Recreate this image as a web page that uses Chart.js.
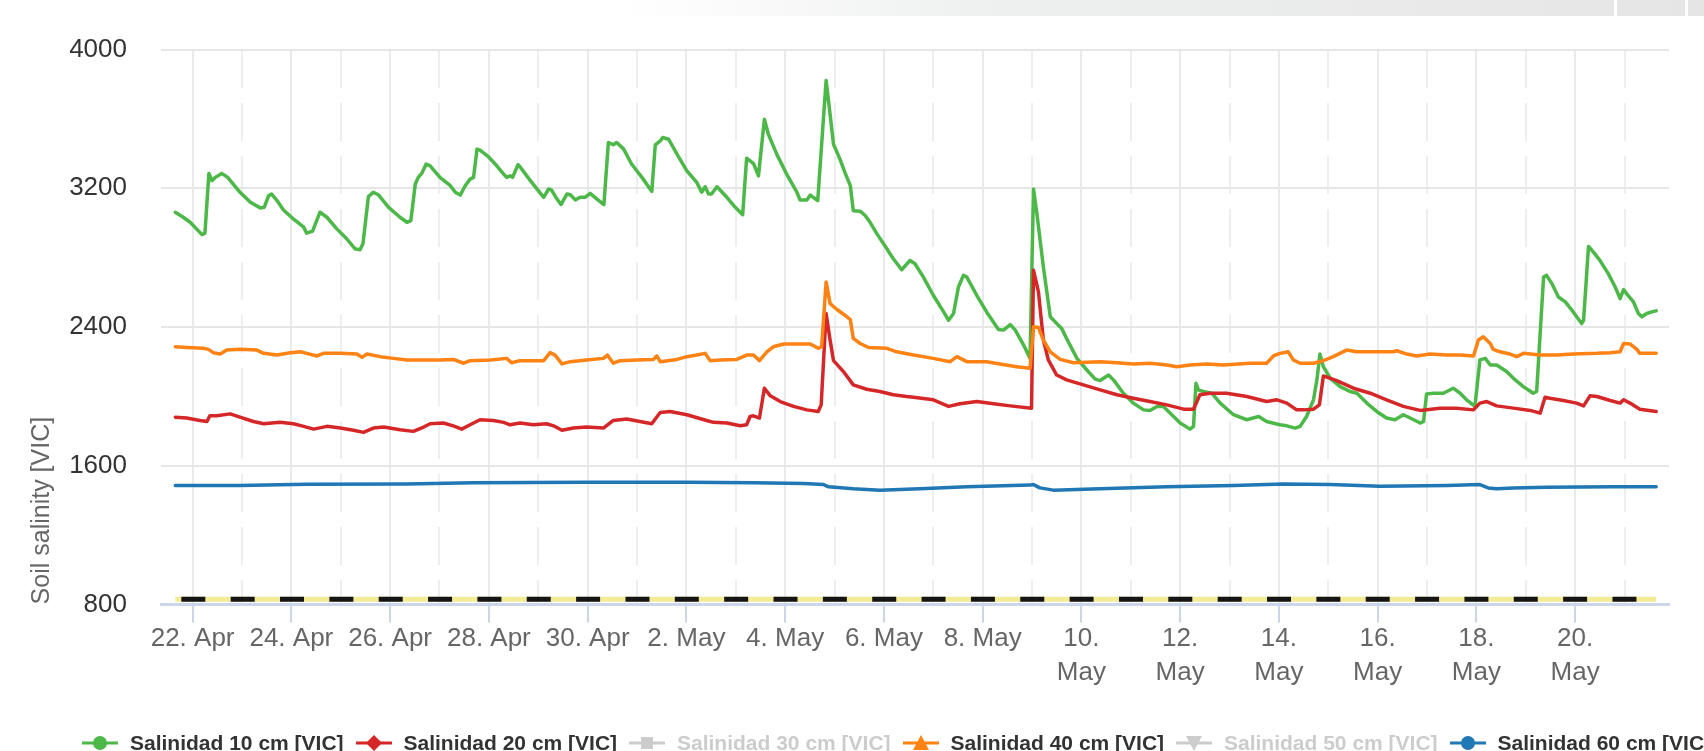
<!DOCTYPE html>
<html><head><meta charset="utf-8">
<script src="https://cdn.jsdelivr.net/npm/chart.js@4.4.1/dist/chart.umd.min.js"></script>
<style>
html,body{margin:0;padding:0;background:#fff;width:1704px;height:751px;overflow:hidden;}
#wrap{position:relative;width:1704px;height:751px;overflow:hidden;}
canvas{position:absolute;left:0;top:0;}
#topbar{position:absolute;left:620px;right:0;top:0;height:16px;background:linear-gradient(to right, rgba(236,238,237,0) 0%, #eef0ef 35%, #e5e5e5 100%);}
.sep{position:absolute;top:0;height:16px;width:3px;background:#fff;}
#legend{position:absolute;left:0;top:729px;height:30px;width:1704px;font:bold 21px 'Liberation Sans', Arial, sans-serif;white-space:nowrap;}
.item{position:absolute;top:0;height:28px;}
.item svg{position:absolute;left:0;top:4px;}
.item span{position:absolute;left:48px;top:0;line-height:28px;}
</style></head>
<body><div id="wrap"><canvas id="c" width="1704" height="751"></canvas><div id="topbar"><div class="sep" style="left:994px"></div><div class="sep" style="left:1065px"></div></div><div id="legend"></div></div>
<script>
// x values: days since 22 Apr 00:00
const xMin = -0.64, xMax = 29.9;
const majorDays = [0,2,4,6,8,10,12,14,16,18,20,22,24,26,28];
const minorDays = [1,3,5,7,9,11,13,15,17,19,21,23,25,27,29];
const tickLabels = ["22. Apr","24. Apr","26. Apr","28. Apr","30. Apr","2. May","4. May","6. May","8. May",
  ["10.","May"],["12.","May"],["14.","May"],["16.","May"],["18.","May"],["20.","May"]];
const yTicks = [800,1600,2400,3200,4000];

const s10T = [
 -0.35,-0.19,-0.05,0.19,0.25,0.33,0.39,0.46,0.59,0.71,
 0.96,1.17,1.37,1.45,1.54,1.60,1.71,1.84,2.04,2.25,
 2.31,2.43,2.58,2.72,2.92,3.12,3.29,3.39,3.45,3.56,
 3.66,3.76,3.97,4.20,4.34,4.42,4.51,4.57,4.64,4.73,
 4.81,5.01,5.22,5.32,5.42,5.52,5.62,5.69,5.76,5.82,
 5.99,6.16,6.30,6.36,6.43,6.48,6.59,6.63,6.84,7.11,
 7.21,7.27,7.38,7.46,7.58,7.65,7.75,7.85,7.95,8.05,
 8.19,8.33,8.42,8.52,8.59,8.73,8.89,9.10,9.30,9.37,
 9.47,9.52,9.64,9.81,10.01,10.21,10.31,10.38,10.45,10.51,
 10.62,10.82,10.99,11.14,11.22,11.36,11.46,11.58,11.66,11.83,
 12.03,12.24,12.30,12.44,12.51,12.57,12.66,12.83,12.91,12.98,
 13.11,13.21,13.32,13.38,13.52,13.62,13.72,13.86,14.06,14.19,
 14.36,14.53,14.63,14.80,15.00,15.21,15.31,15.41,15.51,15.61,
 15.68,15.88,16.08,16.32,16.42,16.56,16.66,16.83,16.96,17.03,
 17.10,17.23,17.37,17.50,17.60,17.70,17.91,18.11,18.28,18.38,
 18.55,18.65,18.85,19.05,19.26,19.39,19.53,19.66,19.80,20.00,
 20.20,20.27,20.32,20.37,20.47,20.64,20.81,21.08,21.35,21.59,
 21.75,22.02,22.16,22.33,22.43,22.56,22.70,22.77,22.83,22.90,
 23.04,23.24,23.44,23.58,23.78,23.98,24.18,24.35,24.52,24.66,
 24.86,24.93,24.99,25.13,25.33,25.53,25.67,25.80,25.97,26.07,
 26.18,26.28,26.41,26.61,26.75,26.95,27.15,27.22,27.36,27.42,
 27.53,27.66,27.80,27.96,28.13,28.17,28.27,28.37,28.50,28.67,
 28.81,28.91,28.98,29.04,29.18,29.28,29.35,29.45,29.55,29.64];
const s10V = [
 3062,3033,3004,2933,2941,3286,3244,3263,3286,3263,
 3177,3119,3087,3090,3158,3167,3129,3075,3023,2976,
 2941,2953,3062,3033,2966,2909,2851,2845,2880,3152,
 3177,3163,3090,3033,3004,3014,3225,3263,3286,3340,
 3330,3263,3215,3177,3161,3215,3253,3263,3426,3420,
 3382,3330,3282,3263,3272,3263,3336,3324,3244,3148,
 3196,3190,3138,3106,3167,3163,3133,3148,3148,3171,
 3138,3106,3464,3451,3464,3426,3340,3263,3182,3451,
 3473,3493,3483,3397,3301,3234,3177,3209,3167,3167,
 3209,3148,3090,3048,3374,3343,3272,3598,3512,3397,
 3282,3177,3133,3133,3161,3148,3129,3822,3627,3454,
 3368,3292,3215,3071,3068,3043,3004,2937,2851,2794,
 2730,2784,2765,2688,2583,2487,2439,2478,2631,2698,
 2688,2583,2487,2386,2382,2414,2382,2296,2219,3196,
 3052,2746,2459,2420,2392,2334,2219,2152,2099,2091,
 2123,2095,2018,1961,1922,1919,1942,1942,1903,1846,
 1811,1827,2075,2037,2028,2018,1961,1894,1865,1884,
 1855,1836,1830,1817,1827,1884,1980,2095,2244,2171,
 2104,2056,2028,2018,1961,1913,1875,1865,1894,1875,
 1846,1855,2014,2018,2018,2047,2018,1980,1942,2210,
 2219,2181,2181,2143,2104,2056,2018,2028,2688,2698,
 2650,2573,2545,2487,2420,2439,2865,2832,2784,2708,
 2631,2564,2616,2593,2545,2478,2459,2478,2487,2493];

const s20T = [
 -0.35,-0.12,0.15,0.29,0.35,0.49,0.76,0.96,1.23,1.44,
 1.77,2.04,2.25,2.45,2.72,2.99,3.26,3.46,3.66,3.87,
 4.20,4.47,4.68,4.81,5.08,5.28,5.45,5.62,5.82,6.09,
 6.30,6.43,6.63,6.90,7.17,7.31,7.48,7.71,7.98,8.32,
 8.52,8.79,9.06,9.30,9.37,9.47,9.67,10.01,10.41,10.55,
 10.82,11.09,11.22,11.29,11.36,11.48,11.58,11.70,11.90,12.17,
 12.44,12.67,12.73,12.83,12.91,12.98,13.18,13.38,13.65,13.92,
 14.19,14.46,14.60,15.00,15.31,15.54,15.88,16.22,16.56,16.99,
 17.03,17.13,17.23,17.33,17.50,17.70,18.04,18.38,18.72,19.05,
 19.39,19.73,20.07,20.27,20.40,20.61,20.94,21.35,21.75,21.96,
 22.16,22.36,22.50,22.70,22.82,22.90,23.17,23.51,23.85,24.18,
 24.52,24.86,25.26,25.60,25.94,26.07,26.21,26.41,26.75,27.09,
 27.29,27.39,27.49,27.76,28.03,28.17,28.30,28.44,28.71,28.91,
 28.98,29.11,29.31,29.64];
const s20V = [
 1880,1875,1861,1855,1888,1888,1899,1880,1855,1842,
 1850,1842,1827,1811,1827,1817,1804,1792,1817,1823,
 1807,1798,1823,1842,1846,1830,1811,1836,1865,1861,
 1850,1836,1846,1836,1842,1830,1804,1817,1823,1817,
 1861,1869,1855,1842,1869,1907,1913,1894,1861,1850,
 1846,1830,1836,1884,1888,1875,2047,2003,1970,1942,
 1922,1913,1951,2478,2325,2206,2143,2066,2041,2028,
 2009,1999,1995,1980,1942,1957,1970,1957,1945,1932,
 2727,2602,2325,2210,2123,2095,2066,2037,2009,1989,
 1970,1951,1926,1926,2009,2018,2018,1999,1970,1980,
 1961,1922,1922,1926,1951,2118,2091,2047,2018,1980,
 1942,1919,1932,1932,1922,1961,1970,1945,1932,1919,
 1903,1995,1989,1976,1961,1945,2003,1999,1976,1961,
 1980,1961,1926,1913];

const s40T = [
 -0.35,-0.12,0.22,0.32,0.42,0.56,0.69,0.96,1.30,1.44,
 1.71,1.98,2.18,2.31,2.52,2.65,2.99,3.33,3.43,3.53,
 3.80,4.07,4.34,4.68,5.01,5.28,5.49,5.62,6.03,6.36,
 6.46,6.63,7.11,7.24,7.34,7.48,7.65,7.98,8.32,8.40,
 8.52,8.66,9.00,9.33,9.40,9.47,9.81,10.01,10.21,10.38,
 10.48,10.68,11.02,11.22,11.36,11.48,11.63,11.76,11.97,12.24,
 12.51,12.67,12.74,12.83,12.91,13.05,13.21,13.32,13.38,13.52,
 13.69,14.06,14.26,14.60,15.00,15.34,15.48,15.68,16.08,16.35,
 16.69,16.96,17.03,17.13,17.23,17.37,17.57,17.84,18.38,18.72,
 19.05,19.39,19.73,19.93,20.20,20.54,20.88,21.42,21.75,21.89,
 22.02,22.19,22.29,22.43,22.70,22.90,23.10,23.37,23.58,23.78,
 24.05,24.32,24.39,24.59,24.79,25.06,25.40,25.67,25.94,26.04,
 26.14,26.28,26.34,26.48,26.68,26.82,26.95,27.29,27.63,27.96,
 28.44,28.71,28.91,28.98,29.11,29.25,29.31,29.64];
const s40V = [
 2286,2282,2277,2271,2252,2244,2267,2271,2267,2248,
 2238,2252,2257,2248,2233,2248,2248,2244,2225,2244,
 2229,2219,2210,2210,2210,2213,2191,2206,2210,2219,
 2194,2206,2206,2252,2238,2187,2200,2210,2219,2238,
 2191,2206,2210,2213,2233,2200,2213,2229,2238,2248,
 2206,2210,2213,2238,2238,2206,2257,2286,2302,2302,
 2302,2277,2286,2660,2535,2501,2468,2443,2334,2305,
 2282,2277,2257,2238,2219,2200,2229,2200,2200,2187,
 2171,2162,2401,2397,2325,2257,2213,2194,2200,2194,
 2187,2191,2181,2171,2181,2187,2181,2191,2191,2233,
 2248,2257,2210,2191,2191,2206,2229,2267,2257,2257,
 2257,2257,2263,2244,2233,2244,2238,2238,2233,2325,
 2344,2305,2271,2257,2244,2229,2248,2238,2238,2244,
 2248,2252,2257,2305,2302,2271,2248,2248];

const s60T = [
 -0.35,0.96,2.31,4.34,5.69,7.98,10.01,11.36,12.37,12.78,
 12.88,13.38,13.92,14.73,15.68,16.96,17.03,17.16,17.43,18.38,
 19.73,21.08,22.09,23.04,24.05,25.40,26.07,26.24,26.41,26.75,
 27.42,28.77,29.64];
const s60V = [
 1486,1486,1493,1495,1501,1505,1505,1501,1497,1491,
 1478,1467,1459,1467,1478,1488,1491,1472,1459,1467,
 1478,1486,1495,1491,1482,1486,1491,1472,1467,1472,
 1476,1478,1478];

const limitT = [-0.35, 29.64];
const limitV = [830, 830];

const legendNames = ["Salinidad 10 cm [VIC]","Salinidad 20 cm [VIC]","Salinidad 30 cm [VIC]",
  "Salinidad 40 cm [VIC]","Salinidad 50 cm [VIC]","Salinidad 60 cm [VIC]"];
const legendColors = ["#4cb848","#d62728","#cccccc","#ff8214","#cccccc","#1f77b4"];
const legendMarkers = ["circle","diamond","square","triangle","triangleDown","circle"];
const legendHidden = [false,false,true,false,true,false];

const pts = (T, V) => T.map((t, i) => ({x: t, y: V[i]}));
const FONT = "'Liberation Sans', Arial, sans-serif";
Chart.defaults.font.family = FONT;

const line = (label, T, V, color, order) => ({
  label, data: pts(T, V), borderColor: color, backgroundColor: color, borderWidth: 3.5,
  pointRadius: 0, pointHoverRadius: 0, tension: 0, fill: false,
  borderJoinStyle: 'round', borderCapStyle: 'round', order
});

new Chart(document.getElementById('c'), {
  type: 'line',
  data: { datasets: [
    line(legendNames[0], s10T, s10V, legendColors[0], 6),
    line(legendNames[1], s20T, s20V, legendColors[1], 5),
    line(legendNames[3], s40T, s40V, legendColors[3], 4),
    line(legendNames[5], s60T, s60V, legendColors[5], 3),
    { label: 'limit', data: pts(limitT, limitV), borderColor: '#f3ec96', borderWidth: 5,
      pointRadius: 0, tension: 0, fill: false, borderCapStyle: 'butt', order: 2 },
    { label: 'limit dash', data: pts(limitT, limitV), borderColor: '#151515', borderWidth: 5,
      borderDash: [24, 25.35], borderDashOffset: 43.35, pointRadius: 0, tension: 0,
      fill: false, borderCapStyle: 'butt', order: 1 }
  ]},
  options: {
    responsive: false, animation: false, events: [],
    layout: { padding: { top: 48.5, right: 35, bottom: 61, left: 0 } },
    plugins: { legend: { display: false }, tooltip: { enabled: false } },
    scales: {
      x: {
        type: 'linear', position: 'bottom', min: xMin, max: xMax,
        afterBuildTicks: s => { s.ticks = majorDays.map(v => ({ value: v })); },
        ticks: {
          autoSkip: false, maxRotation: 0, minRotation: 0, padding: 0,
          color: '#666666', font: { size: 26, lineHeight: 1.3 },
          callback: v => { const i = majorDays.indexOf(v); return i >= 0 ? tickLabels[i] : ''; }
        },
        grid: { color: '#e8eaed', lineWidth: 2, drawTicks: true, tickLength: 18, tickColor: '#ccd6eb', tickWidth: 2 },
        border: { display: true, color: '#ccd6eb', width: 3 }
      },
      x2: {
        type: 'linear', position: 'top', min: xMin, max: xMax,
        afterBuildTicks: s => { s.ticks = minorDays.map(v => ({ value: v })); },
        ticks: { display: false },
        grid: { color: '#eceef0', lineWidth: 2, drawTicks: false },
        border: { display: false, dash: [38, 15] }
      },
      y: {
        type: 'linear', min: 800, max: 4000,
        afterBuildTicks: s => { s.ticks = yTicks.map(v => ({ value: v })); },
        afterFit: s => { s.width = 161; },
        ticks: { color: '#333333', font: { size: 26 }, padding: 34, callback: v => String(v) },
        grid: { color: c => (c.tick && c.tick.value === 800) ? 'rgba(0,0,0,0)' : '#e6e6e6', lineWidth: 2, drawTicks: false },
        border: { display: false },
        title: { display: true, text: 'Soil salinity [VIC]', align: 'start', color: '#666666',
          font: { size: 25, lineHeight: 1.2 }, padding: { top: 26.7, bottom: 12.3 } }
      }
    }
  }
});

// HTML legend
const markerSvg = (m, c) => {
  let s = '';
  if (m === 'circle') s = `<circle cx="18" cy="10" r="7" fill="${c}"/>`;
  else if (m === 'diamond') s = `<path d="M18 2 L26 10 L18 18 L10 10 Z" fill="${c}"/>`;
  else if (m === 'square') s = `<rect x="12" y="4" width="12" height="12" fill="${c}"/>`;
  else if (m === 'triangle') s = `<path d="M18 2 L26 17 L10 17 Z" fill="${c}"/>`;
  else s = `<path d="M10 3 L26 3 L18 18 Z" fill="${c}"/>`;
  return `<svg width="36" height="20" viewBox="0 0 36 20"><line x1="0" y1="10" x2="36" y2="10" stroke="${c}" stroke-width="3"/>${s}</svg>`;
};
const lg = document.getElementById('legend');
legendNames.forEach((n, i) => {
  const d = document.createElement('div');
  d.className = 'item';
  d.style.left = (82 + 273.5 * i) + 'px';
  d.innerHTML = markerSvg(legendMarkers[i], legendColors[i]) +
    `<span style="color:${legendHidden[i] ? '#cccccc' : '#333333'}">${n}</span>`;
  lg.appendChild(d);
});
</script>
</body></html>
